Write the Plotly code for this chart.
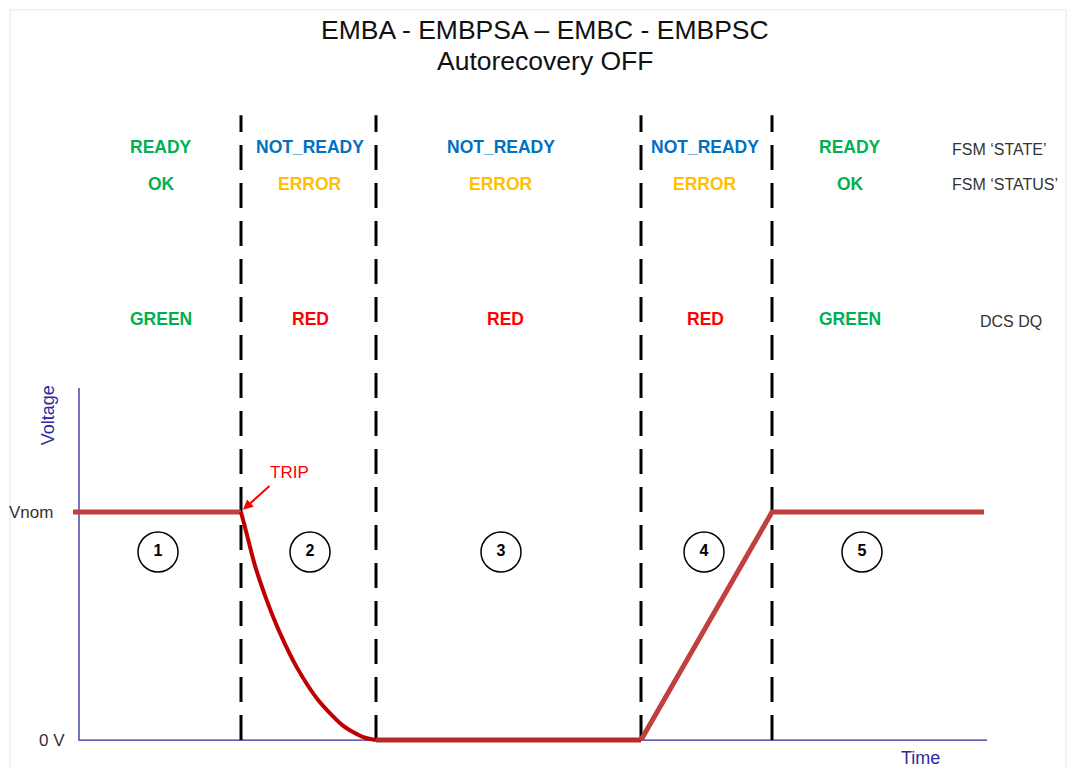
import plotly.graph_objects as go

# phase boundaries (time, arbitrary units)
boundaries = [16.2, 29.7, 56.2, 69.3]
phase_centres = [8.2, 23.1, 42.2, 62.6, 77.1]
circle_t = [7.9, 23.1, 42.2, 62.5, 78.3]
circle_labels = ["1", "2", "3", "4", "5"]

fsm_state = ["READY", "NOT_READY", "NOT_READY", "NOT_READY", "READY"]
fsm_status = ["OK", "ERROR", "ERROR", "ERROR", "OK"]
dcs_dq = ["GREEN", "RED", "RED", "RED", "GREEN"]

# voltage curve pieces (Vnom = 1)
flat1_t = [-0.6, 16.2]
flat1_v = [1.0, 1.0]
decay_t = [16.2, 16.77, 17.6, 18.77, 20.1, 21.77, 23.93, 26.43, 28.43, 29.7]
decay_v = [1.0, 0.905, 0.765, 0.614, 0.469, 0.320, 0.175, 0.062, 0.013, 0.0]
off_t = [29.7, 56.2]
off_v = [0.0, 0.0]
ramp_t = [56.2, 69.3, 90.5]
ramp_v = [0.0, 1.0, 1.0]

colours = {"READY": "#00B050", "NOT_READY": "#0070C0", "OK": "#00B050",
           "ERROR": "#FFC000", "GREEN": "#00B050", "RED": "#FF0000"}

FONT = "Liberation Sans, Arial, sans-serif"
AXIS_BLUE = "#2B2B9E"
CURVE = "#C0403F"

fig = go.Figure()

# axes drawn as lines
fig.add_trace(go.Scatter(x=[0, 0, 90.8], y=[1.544, 0, 0], mode="lines",
                         line=dict(color=AXIS_BLUE, width=1.3), hoverinfo="skip"))

# dashed phase separators
for b in boundaries:
    fig.add_trace(go.Scatter(x=[b, b], y=[0, 2.741], mode="lines",
                             line=dict(color="black", width=3, dash="25px,13px"),
                             hoverinfo="skip"))

fig.add_trace(go.Scatter(x=flat1_t, y=flat1_v, mode="lines",
                         line=dict(color=CURVE, width=5)))
fig.add_trace(go.Scatter(x=decay_t, y=decay_v, mode="lines",
                         line=dict(color="#C00000", width=4, shape="spline", smoothing=0.7)))
fig.add_trace(go.Scatter(x=off_t, y=off_v, mode="lines",
                         line=dict(color="#B82A2A", width=5)))
fig.add_trace(go.Scatter(x=ramp_t, y=ramp_v, mode="lines",
                         line=dict(color=CURVE, width=5)))

# numbered circles
fig.add_trace(go.Scatter(x=circle_t, y=[0.825] * 5, mode="markers+text",
                         text=["<b>%s</b>" % c for c in circle_labels],
                         textposition="middle center",
                         textfont=dict(family=FONT, size=16, color="black"),
                         marker=dict(symbol="circle", size=40, color="white",
                                     line=dict(color="black", width=1.5))))

ann = []
for i in range(5):
    ann.append(dict(x=phase_centres[i], y=2.601, text="<b>%s</b>" % fsm_state[i],
                    font=dict(color=colours[fsm_state[i]], size=17.5)))
    ann.append(dict(x=phase_centres[i], y=2.439, text="<b>%s</b>" % fsm_status[i],
                    font=dict(color=colours[fsm_status[i]], size=17.5)))
    ann.append(dict(x=phase_centres[i] + (0.4 if i == 2 else 0), y=1.846,
                    text="<b>%s</b>" % dcs_dq[i],
                    font=dict(color=colours[dcs_dq[i]], size=17.5)))

ann += [
    dict(x=87.1, y=2.59, text="FSM ‘STATE’", xanchor="left", font=dict(size=16, color="#333")),
    dict(x=87.1, y=2.435, text="FSM ‘STATUS’", xanchor="left", font=dict(size=16, color="#333")),
    dict(x=89.9, y=1.836, text="DCS DQ", xanchor="left", font=dict(size=16, color="#333")),
    dict(x=-2.4, y=1.0, text="Vnom", xanchor="right", font=dict(size=17, color="#333")),
    dict(x=-1.2, y=0.0, text="0 V", xanchor="right", font=dict(size=17, color="#333")),
    dict(x=-3.1, y=1.425, text="Voltage", textangle=-90, font=dict(size=18, color=AXIS_BLUE)),
    dict(x=84.1, y=-0.078, text="Time", font=dict(size=18, color=AXIS_BLUE)),
    dict(x=21.0, y=1.175, text="TRIP", font=dict(size=17, color="#FF0000")),
    dict(x=16.4, y=1.01, ax=19.2, ay=1.12, axref="x", ayref="y", text="",
         showarrow=True, arrowhead=2, arrowsize=1, arrowwidth=2, arrowcolor="#FF0000",
         font=dict(size=12)),
    dict(x=0.508, y=0.961, xref="paper", yref="paper", yanchor="middle",
         text="EMBA - EMBPSA – EMBC - EMBPSC", font=dict(size=26.5, color="#111")),
    dict(x=0.508, y=0.921, xref="paper", yref="paper", yanchor="middle",
         text="Autorecovery OFF", font=dict(size=26.5, color="#111")),
]
for a in ann:
    a.setdefault("showarrow", False)
    a["font"]["family"] = FONT

fig.update_layout(
    width=1073, height=767,
    margin=dict(l=0, r=0, t=0, b=0),
    plot_bgcolor="white", paper_bgcolor="white",
    showlegend=False,
    annotations=ann,
    xaxis=dict(range=[-7.9, 99.4], visible=False),
    yaxis=dict(range=[-0.118, 3.246], visible=False),
    shapes=[dict(type="rect", xref="paper", yref="paper", x0=0.0093, x1=0.9935, y0=-0.01, y1=0.987,
                 line=dict(color="#E4E4E4", width=1))],
)

fig.write_html("out.html", config={"displayModeBar": False},
               post_script="document.body.style.margin='0';document.body.style.overflow='hidden';")
